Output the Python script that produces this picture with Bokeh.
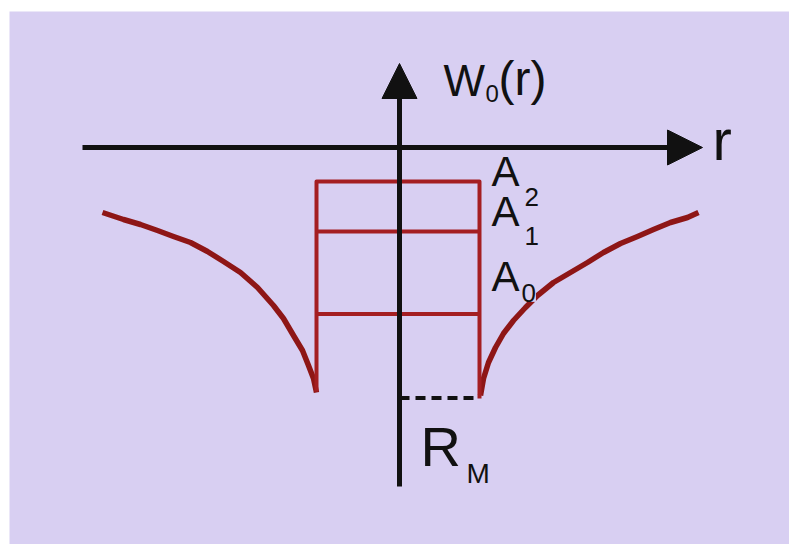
from bokeh.plotting import figure
from bokeh.models import Range1d, Arrow, NormalHead
from bokeh.core.properties import value
from bokeh.embed import file_html
from bokeh.resources import INLINE

# ---- data (schematic units, origin at the axes crossing, w up) ----
left_curve_r = [-297, -276, -259, -242, -226, -209, -192, -176, -159, -142,
                -126, -116, -106, -97, -91, -86, -83]
left_curve_w = [-65, -72, -77, -83, -89, -95, -104, -114, -125, -140,
                -158, -171, -188, -203, -218, -231, -245]
right_curve_r = [81, 84, 89, 96, 104, 114, 126, 138, 154, 171, 188, 204,
                 221, 238, 254, 271, 288, 299]
right_curve_w = [-248, -231, -215, -200, -186, -173, -160, -148, -135, -125,
                 -115, -105, -96, -89, -82, -75, -70, -65]

well_r = [-83, -83, 80, 80]          # well walls
well_w = [-244, -34, -34, -251]
level_names = ["A0", "A1", "A2"]
level_w = [-166.5, -84, -34]
rm_w = -250.5                        # R_M level (dashed)

r_axis = [-317, 303]
w_axis = [-339, 84]

FONT = value("Liberation Sans")
BLACK = "#111111"
BG = "#D8CFF2"

p = figure(width=789, height=544, output_backend="svg", toolbar_location=None,
           x_range=Range1d(-390, 390), y_range=Range1d(-397, 136),
           x_axis_type=None, y_axis_type=None,
           min_border_left=9, min_border_top=11, min_border_right=0, min_border_bottom=0)
p.background_fill_color = BG
p.border_fill_color = "white"
p.outline_line_color = None

# potential curve
p.line(left_curve_r, left_curve_w, line_color="#8E1616", line_width=5.5, line_join="round")
p.line(right_curve_r, right_curve_w, line_color="#8E1616", line_width=5.5, line_join="round")

# well box and levels
p.line(well_r, well_w, line_color="#A41E22", line_width=4, line_join="round")
p.segment(x0=[well_r[0]] * 2, y0=level_w[:2], x1=[well_r[-1]] * 2, y1=level_w[:2],
          line_color="#A41E22", line_width=4)

# R_M dashed
p.line([0, well_r[-1]], [rm_w, rm_w], line_color=BLACK, line_width=4, line_dash="10 6")

# axes with arrows
p.add_layout(Arrow(end=NormalHead(size=35, fill_color=BLACK, line_color=BLACK, line_width=1),
                   x_start=r_axis[0], y_start=0, x_end=r_axis[1], y_end=0,
                   line_color=BLACK, line_width=5))
p.add_layout(Arrow(end=NormalHead(size=35, fill_color=BLACK, line_color=BLACK, line_width=1),
                   x_start=0, y_start=w_axis[0], x_end=0, y_end=w_axis[1],
                   line_color=BLACK, line_width=5))

def txt(x, y, s, size, bg=None):
    kw = {}
    if bg is not None:
        kw = dict(background_fill_color=bg)
    p.text(x=[x], y=[y + 0.37 * size], text=[s], text_font=FONT,
           text_font_size=f"{size}px", text_color=BLACK,
           text_baseline="alphabetic", text_align="left", **kw)

# labels
txt(44, 51, "W", 44)
txt(86, 45, "0", 24)
txt(99, 51, "(r)", 48)
txt(313, -13, "r", 58)

for name, base_w, sub_x, sub_w in zip(["A2", "A1", "A0"], [-40, -80, -145],
                                      [125, 125, 122], [-59, -98, -155]):
    txt(92, base_w, "A", 42)
    txt(sub_x, sub_w, name[1], 26, bg=BG if name == "A0" else None)

txt(21, -320, "R", 56)
txt(67, -336, "M", 28)

open("out.html", "w").write(file_html(p, INLINE))
